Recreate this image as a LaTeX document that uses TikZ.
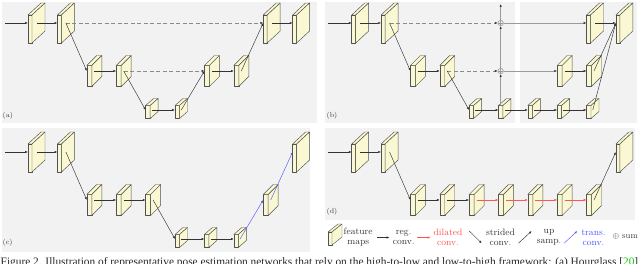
\documentclass[tikz,border=0pt]{standalone}
\usepackage{fontspec}
\usetikzlibrary{arrows.meta}
\newfontfamily\capfont{Liberation Serif}
\definecolor{panelbg}{HTML}{F2F2F2}
\definecolor{fmfill}{HTML}{FAF8D2}
\definecolor{fmline}{HTML}{505050}
\definecolor{arrowc}{HTML}{333333}
\definecolor{dashc}{HTML}{8A8A8A}
\definecolor{sumc}{HTML}{9A9A9A}
\definecolor{redc}{HTML}{FF5555}
\definecolor{bluec}{HTML}{5555FF}
\definecolor{textc}{HTML}{383838}
\definecolor{capgreen}{HTML}{00CC00}
% feature map: name, front-left x, front-top y, w, h, dx, dy, centre y
\newcommand\fmapgen[8]{%
  \filldraw[fm] (#2,#3) rectangle ++(#4,#5);
  \filldraw[fm] (#2,#3) -- ++(#6,-#7) -- ++(#4,0) -- ++(-#6,#7) -- cycle;
  \filldraw[fm] (#2+#4,#3) -- ++(#6,-#7) -- ++(0,#5) -- ++(-#6,#7) -- cycle;
  \coordinate (#1) at (#2+#4/2+#6/2,#8);
  \coordinate (#1-w) at (#2,#8);
  \coordinate (#1-n) at (#2+#4/2,#3);
}
\newcommand\fmI[3]{\fmapgen{#1}{#2}{#3-8}{4}{28}{13}{12}{#3}}
\newcommand\fmII[3]{\fmapgen{#1}{#2}{#3-5.5}{5}{21}{10}{10}{#3}}
\newcommand\fmIII[3]{\fmapgen{#1}{#2}{#3-4.5}{4.5}{13}{8}{7}{#3}}
\newcommand\gxa[1]{28+29.4*#1}
\newcommand\gxb[1]{351.7+29.35*#1}
\begin{document}
\begin{tikzpicture}[x=1pt,y=-1pt,
  fm/.style={fill=fmfill, draw=fmline, line width=0.45pt, line join=round},
  conn/.style={draw=arrowc, line width=0.45pt, -{Latex[length=2.8pt,width=2.2pt,color=arrowc]}},
  skip/.style={conn, draw=dashc, dash pattern=on 4pt off 2.5pt},
  sumline/.style={conn, draw=sumc, line width=0.7pt},
  dil/.style={conn, draw=redc, -{Latex[length=2.8pt,width=2.2pt,color=redc]}},
  trc/.style={conn, draw=bluec, -{Latex[length=2.8pt,width=2.2pt,color=bluec]}},
  sumnode/.style={circle, draw=sumc, line width=0.6pt, minimum size=5.4pt, inner sep=0pt,
    path picture={\draw[sumc, line width=0.5pt] (path picture bounding box.north) -- (path picture bounding box.south)
      (path picture bounding box.west) -- (path picture bounding box.east);}},
  lbl/.style={font=\fontsize{7}{8}\selectfont, text=textc, inner sep=0pt, anchor=west},
  leg/.style={font=\fontsize{9.3}{10}\selectfont, text=textc, align=center, inner sep=0pt},
]
\useasboundingbox (0,0) rectangle (640,264);
\clip (0,0) rectangle (640,264);
% panel backgrounds
\fill[panelbg] (2,2) rectangle (316.5,123);
\fill[panelbg] (325,2) rectangle (515,123);
\fill[panelbg] (520,2) rectangle (637,123);
\fill[panelbg] (2,128) rectangle (310,252);
\fill[panelbg] (325,128) rectangle (635,220);

% ---------------- (a)
\fmI{A1}{\gxa{0}}{23}
\fmI{A2}{\gxa{1}}{23}
\fmII{A3}{\gxa{2}}{71}
\fmII{A4}{\gxa{3}}{71}
\fmIII{A5}{\gxa{4}}{110}
\fmIII{A6}{\gxa{5}}{110}
\fmII{A7}{\gxa{6}}{71}
\fmII{A8}{\gxa{7}}{71}
\fmI{A9}{\gxa{8}}{23}
\fmI{A10}{\gxa{9}}{23}
\coordinate (ain) at (5,23);
\draw[conn] (ain) -- (A1-w);
\draw[conn] (A1) -- (A2-w);
\draw[skip] (A2) -- (A9-w);
\draw[conn] (A2) -- (A3-w);
\draw[conn] (A3) -- (A4-w);
\draw[skip] (A4) -- (A7-w);
\draw[conn] (A4) -- (A5-w);
\draw[conn] (A5) -- (A6-w);
\draw[conn] (A6) -- (A7-w);
\draw[conn] (A7) -- (A8-w);
\draw[conn] (A8) -- (A9-w);
\draw[conn] (A9) -- (A10-w);
\node[lbl] (la) at (2.5,116) {(a)};

% ---------------- (b)
\fmI{B1}{\gxb{0}}{23}
\fmI{B2}{\gxb{1}}{23}
\fmII{B3}{\gxb{2}}{71}
\fmII{B4}{\gxb{3}}{71}
\fmIII{B5}{\gxb{4}}{110}
\fmIII{B6}{\gxb{5}}{110}
\fmIII{B7}{\gxb{6}}{110}
\fmIII{B8}{\gxb{7}}{110}
\fmIII{B9}{\gxb{8}}{110}
\fmII{B10}{\gxb{7}}{71}
\fmII{B11}{\gxb{8}}{71}
\fmI{B12}{\gxb{8}}{23}
\fmI{B13}{\gxb{9}}{23}
\coordinate (bin) at (328,23);
\coordinate (T0) at (0,4);
\node[sumnode] (S1) at (B6-n |- B2) {};
\node[sumnode] (S2) at (B6-n |- B4) {};
\coordinate (Stop) at (B6-n |- T0);
\draw[conn] (bin) -- (B1-w);
\draw[conn] (B1) -- (B2-w);
\draw[skip] (B2) -- (S1);
\draw[conn] (B2) -- (B3-w);
\draw[conn] (B3) -- (B4-w);
\draw[skip] (B4) -- (S2);
\draw[conn] (B4) -- (B5-w);
\draw[conn] (B5) -- (B6-w);
\draw[conn] (B6) -- (B7-w);
\draw[conn] (B7) -- (B8-w);
\draw[conn] (B8) -- (B9-w);
\draw[sumline] (B6-n) -- (S2);
\draw[sumline] (S2) -- (S1);
\draw[sumline] (S1) -- (Stop);
\draw[sumline] (S1) -- (B12-w);
\draw[sumline] (S2) -- (B10-w);
\draw[conn] (B10) -- (B11-w);
\draw[conn] (B12) -- (B13-w);
\draw[conn] (B11) -- (B13-w);
\draw[conn] (B9) -- (B13-w);
\node[lbl] (lb) at (326.5,116) {(b)};

% ---------------- (c)
\fmI{C1}{\gxa{0}}{152}
\fmI{C2}{\gxa{1}}{152}
\fmII{C3}{\gxa{2}}{200}
\fmII{C4}{\gxa{3}}{200}
\fmII{C5}{\gxa{4}}{200}
\fmIII{C6}{\gxa{5}}{239}
\fmIII{C7}{\gxa{6}}{239}
\fmIII{C8}{\gxa{7}}{239}
\fmII{C9}{\gxa{8}}{200}
\fmI{C10}{\gxa{9}}{152}
\coordinate (cin) at (5,152);
\draw[conn] (cin) -- (C1-w);
\draw[conn] (C1) -- (C2-w);
\draw[conn] (C2) -- (C3-w);
\draw[conn] (C3) -- (C4-w);
\draw[conn] (C4) -- (C5-w);
\draw[conn] (C5) -- (C6-w);
\draw[conn] (C6) -- (C7-w);
\draw[conn] (C7) -- (C8-w);
\draw[trc] (C8) -- (C9-w);
\draw[trc] (C9) -- (C10-w);
\node[lbl] (lc) at (2.5,243) {(c)};

% ---------------- (d)
\fmI{D1}{\gxb{0}}{152}
\fmI{D2}{\gxb{1}}{152}
\fmII{D3}{\gxb{2}}{200}
\fmII{D4}{\gxb{3}}{200}
\fmII{D5}{\gxb{4}}{200}
\fmII{D6}{\gxb{5}}{200}
\fmII{D7}{\gxb{6}}{200}
\fmII{D8}{\gxb{7}}{200}
\fmII{D9}{\gxb{8}}{200}
\fmI{D10}{\gxb{9}}{152}
\coordinate (din) at (328,152);
\draw[conn] (din) -- (D1-w);
\draw[conn] (D1) -- (D2-w);
\draw[conn] (D2) -- (D3-w);
\draw[conn] (D3) -- (D4-w);
\draw[conn] (D4) -- (D5-w);
\draw[dil] (D5) -- (D6-w);
\draw[dil] (D6) -- (D7-w);
\draw[dil] (D7) -- (D8-w);
\draw[dil] (D8) -- (D9-w);
\draw[conn] (D9) -- (D10-w);
\node[lbl] (ld) at (326.5,212) {(d)};

% ---------------- legend
\fmapgen{L0}{328}{232}{4}{13}{10}{8}{237}
\node[leg] (t1) at (358.2,237.5) {feature\\maps};
\coordinate (r1) at (377,237.5); \coordinate (r2) at (389.5,237.5);
\draw[conn] (r1) -- (r2);
\node[leg] (t2) at (403.7,237.5) {reg.\\conv.};
\coordinate (d1) at (417,237.5); \coordinate (d2) at (430.5,237.5);
\draw[dil] (d1) -- (d2);
\node[leg, text=redc] (t3) at (448,237.5) {dilated\\conv.};
\coordinate (s1) at (469.3,231); \coordinate (s2) at (481.7,243.3);
\draw[conn] (s1) -- (s2);
\node[leg] (t4) at (500.5,237.5) {strided\\conv.};
\coordinate (u1) at (518.3,243.3); \coordinate (u2) at (531.7,231);
\draw[conn] (u1) -- (u2);
\node[leg] (t5) at (549,237.5) {up\\samp.};
\coordinate (b1) at (564,243.3); \coordinate (b2) at (577.3,231);
\draw[trc] (b1) -- (b2);
\node[leg, text=bluec] (t6) at (593.5,237.5) {trans.\\conv.};
\node[leg, anchor=west, font=\fontsize{8.5}{10}\selectfont] (t7) at (612.5,236.7) {$\oplus$ sum};

% ---------------- caption (cut by the page edge)
\node[anchor=base west, inner sep=0pt, text=black!85] (cap) at (0.5,265.3)
  {\resizebox{637.5pt}{!}{\capfont Figure 2. Illustration of representative pose estimation networks that rely on the high-to-low and low-to-high framework: (a) Hourglass [\textcolor{capgreen}{20}]}};
\end{tikzpicture}
\end{document}
